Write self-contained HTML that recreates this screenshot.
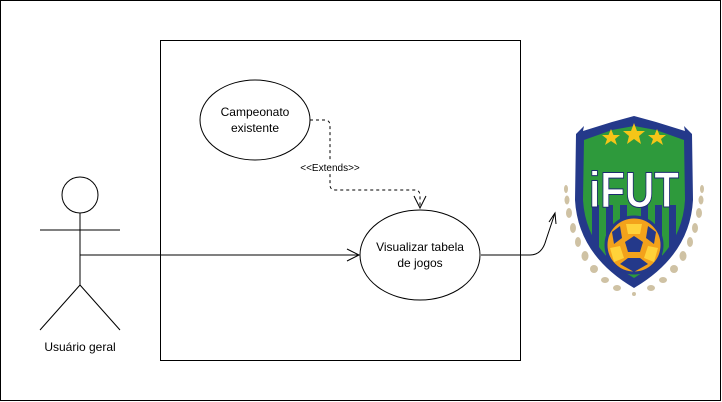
<!DOCTYPE html>
<html><head><meta charset="utf-8"><style>
html,body{margin:0;padding:0;background:#fff}
svg{display:block;font-family:"Liberation Sans",sans-serif}
</style></head><body>
<svg width="722" height="402" viewBox="0 0 722 402">
<rect x="0.5" y="0.5" width="720" height="400" fill="#fff" stroke="#000"/>
<rect x="160.5" y="40.5" width="360" height="320" fill="#fff" stroke="#000"/>
<ellipse cx="255" cy="120" rx="55" ry="40" fill="#fff" stroke="#000"/>
<text x="255" y="116" font-size="12" text-anchor="middle">Campeonato</text>
<text x="255" y="132" font-size="12" text-anchor="middle">existente</text>
<ellipse cx="420" cy="255" rx="60" ry="45" fill="#fff" stroke="#000"/>
<text x="420" y="251" font-size="12" text-anchor="middle">Visualizar tabela</text>
<text x="420" y="267" font-size="12" text-anchor="middle">de jogos</text>
<path d="M310 120 H325 Q330 120 330 126 V185 Q330 190 336 190 H415 Q420 190 420 196 V208" fill="none" stroke="#000" stroke-dasharray="3,3"/>
<path d="M414 196 L420 208 L426 196" fill="none" stroke="#000"/>
<rect x="298" y="161" width="64" height="12" fill="#fff"/>
<text x="330" y="171" font-size="10" text-anchor="middle">&lt;&lt;Extends&gt;&gt;</text>
<circle cx="80" cy="195" r="18" fill="#fff" stroke="#000"/>
<path d="M80 213 V285 M40 230 H120 M80 285 L40 330 M80 285 L120 330" stroke="#000" fill="none"/>
<text x="80" y="351" font-size="12" text-anchor="middle">Usuário geral</text>
<path d="M80 255 H359" stroke="#000"/>
<path d="M347 249 L359 255 L347 261" fill="none" stroke="#000"/>
<path d="M481 255 H530 Q542 255 546 240 L555 213" fill="none" stroke="#000"/>
<path d="M549 222 L555 213 L556 224" fill="none" stroke="#000"/>
<!-- logo -->
<g>
<g fill="#cfc2a4">
<ellipse cx="566" cy="189" rx="2" ry="4"/><ellipse cx="567" cy="200" rx="2.5" ry="4.5"/><ellipse cx="569" cy="213" rx="3" ry="5"/><ellipse cx="573" cy="228" rx="3" ry="5"/><ellipse cx="578" cy="242" rx="3" ry="5"/><ellipse cx="585" cy="256" rx="3.5" ry="5"/><ellipse cx="594" cy="269" rx="4" ry="4"/><ellipse cx="605" cy="280" rx="4" ry="3"/><ellipse cx="617" cy="288" rx="4" ry="3"/>
<ellipse cx="702" cy="189" rx="2" ry="4"/><ellipse cx="701" cy="200" rx="2.5" ry="4.5"/><ellipse cx="699" cy="213" rx="3" ry="5"/><ellipse cx="695" cy="228" rx="3" ry="5"/><ellipse cx="690" cy="242" rx="3" ry="5"/><ellipse cx="683" cy="256" rx="3.5" ry="5"/><ellipse cx="674" cy="269" rx="4" ry="4"/><ellipse cx="663" cy="280" rx="4" ry="3"/><ellipse cx="651" cy="288" rx="4" ry="3"/>
<circle cx="634" cy="294" r="2"/>
</g>
<path d="M576 134 L584 126 L583 131 L612 122 L634 116 L656 122 L685 131 L684 126 L692 134 L693 200 Q690 255 634 288 Q578 255 575 200 Z" fill="#24398a"/>
<path d="M584 140 L612 130 L634 126 L656 130 L684 140 L685 200 Q682 250 634 278 Q586 250 583 200 Z" fill="#2e9a3c"/>
<g fill="#24398a"><rect x="592" y="205" width="7" height="45"/><rect x="606" y="205" width="7" height="60"/><rect x="620" y="205" width="7" height="70"/><rect x="641" y="205" width="7" height="70"/><rect x="655" y="205" width="7" height="60"/><rect x="669" y="205" width="7" height="45"/></g>
<g fill="#f5c518"><polygon points="611,129 613.5,135 620,135 615,139 617,145 611,141 605,145 607,139 602,135 608.5,135"/><polygon points="634,123 637,131 645,131 639,136 641,144 634,139 627,144 629,136 623,131 631,131"/><polygon points="657,129 659.5,135 666,135 661,139 663,145 657,141 651,145 653,139 648,135 654.5,135"/></g>
<text x="634" y="207" font-size="50" font-weight="bold" fill="#fff" stroke="#1b2b6e" stroke-width="1" text-anchor="middle" textLength="90" lengthAdjust="spacingAndGlyphs">iFUT</text>
<circle cx="634" cy="245" r="28" fill="#f3a21b" stroke="#24398a" stroke-width="3"/>
<g fill="#24398a"><polygon points="634,236 643,242 640,252 628,252 625,242"/><polygon points="612,232 620,226 622,238 614,244"/><polygon points="656,232 648,226 646,238 654,244"/><polygon points="620,264 628,258 640,258 648,264 634,272"/></g>
<g fill="#ffd23a"><polygon points="626,224 642,224 640,234 628,234"/><polygon points="610,248 620,246 624,258 614,262"/><polygon points="658,248 648,246 644,258 654,262"/></g>
</g>
</svg>
</body></html>
